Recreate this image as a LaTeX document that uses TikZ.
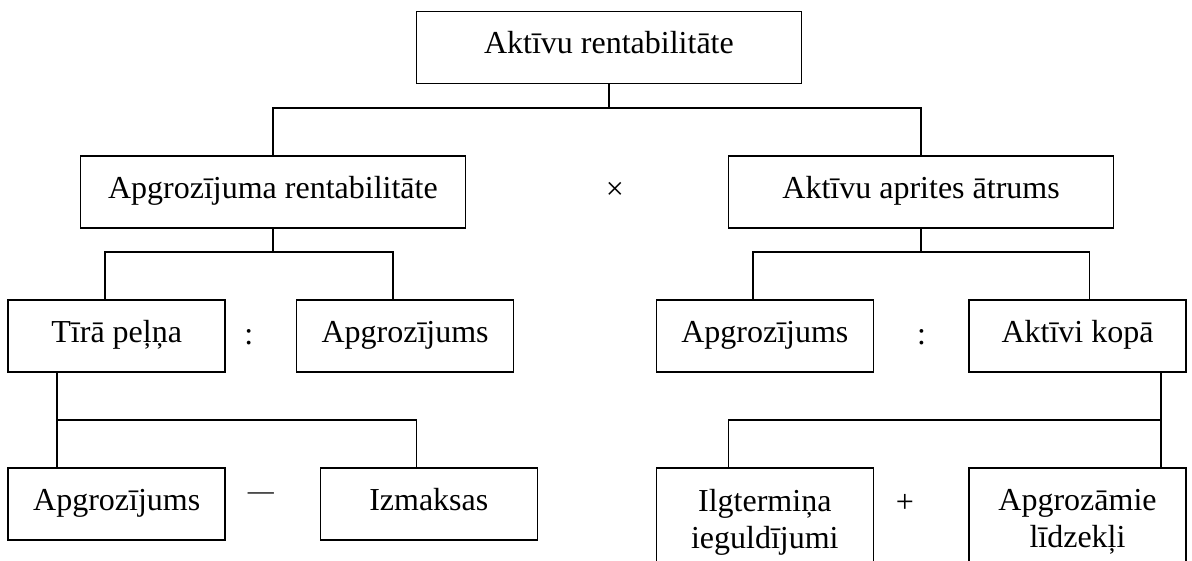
\documentclass[tikz,border=0pt]{standalone}
\usepackage{fontspec}
\setmainfont{Liberation Serif}

\begin{document}
\begin{tikzpicture}[x=1pt, y=-1pt, line width=1.6pt,
  font=\fontsize{32}{36.8}\selectfont,
  b/.style={draw, inner sep=0pt, minimum height=72pt,
            text height=20pt, text depth=8pt},
  wb/.style={b, minimum width=385pt},
  nb/.style={b, minimum width=217pt},
  tb/.style={draw, inner sep=0pt, align=center, minimum width=217pt, minimum height=108pt},
  op/.style={inner sep=0pt}]

\clip (0,0) rectangle (1192,560);

% --- boxes ---
\node[wb] (aktren) at (608.9,47.5) {Aktīvu rentabilitāte};
\node[wb] (apgren) at (272.9,192) {Apgrozījuma rentabilitāte};
\node[wb] (aktapr) at (921.1,192) {Aktīvu aprites ātrums};
\node[nb] (tpel)   at (116.7,336) {Tīrā peļņa};
\node[nb] (apg1)   at (405.1,336) {Apgrozījums};
\node[nb] (apg2)   at (764.8,336) {Apgrozījums};
\node[nb] (aktkop) at (1077.5,336) {Aktīvi kopā};
\node[nb] (apg3)   at (116.7,504) {Apgrozījums};
\node[nb] (izm)    at (428.8,504) {Izmaksas};
\node[tb] (ilgt)   at (764.8,522) {Ilgtermiņa\\ieguldījumi};
\node[tb] (apgl)   at (1077.5,522) {Apgrozāmie\\līdzekļi};

% --- operators ---
\node[op] (mul)   at (615,191)   {×};
\node[op] (div1)  at (248.7,337) {:};
\node[op] (div2)  at (921.5,337) {:};
\node[op, font=\fontsize{26}{30}\selectfont] (minus) at (260.8,496) {—};
\node[op] (plus)  at (905,503)   {+};

% --- bus lines ---
\coordinate (bus1) at (0,108);
\coordinate (bus2) at (0,252);
\coordinate (bus3) at (0,420);

\draw (aktren.south) -- (aktren.south |- bus1);
\draw (apgren.north) |- (aktapr.north |- bus1) -- (aktapr.north);

\draw (apgren.south) -- (apgren.south |- bus2);
\draw ([xshift=-12pt]tpel.north) |- ([xshift=-12pt]apg1.north |- bus2) -- ([xshift=-12pt]apg1.north);
\draw (aktapr.south) -- (aktapr.south |- bus2);
\draw ([xshift=-12pt]apg2.north) |- ([xshift=12pt]aktkop.north |- bus2) -- ([xshift=12pt]aktkop.north);

\draw ([xshift=-60pt]tpel.south) -- ([xshift=-60pt]apg3.north);
\draw ([xshift=-60pt]tpel.south |- bus3) -| ([xshift=-12.5pt]izm.north);
\draw ([xshift=83.5pt]aktkop.south) -- ([xshift=83.5pt]apgl.north);
\draw ([xshift=83.5pt]aktkop.south |- bus3) -| ([xshift=-36.2pt]ilgt.north);
\end{tikzpicture}
\end{document}
